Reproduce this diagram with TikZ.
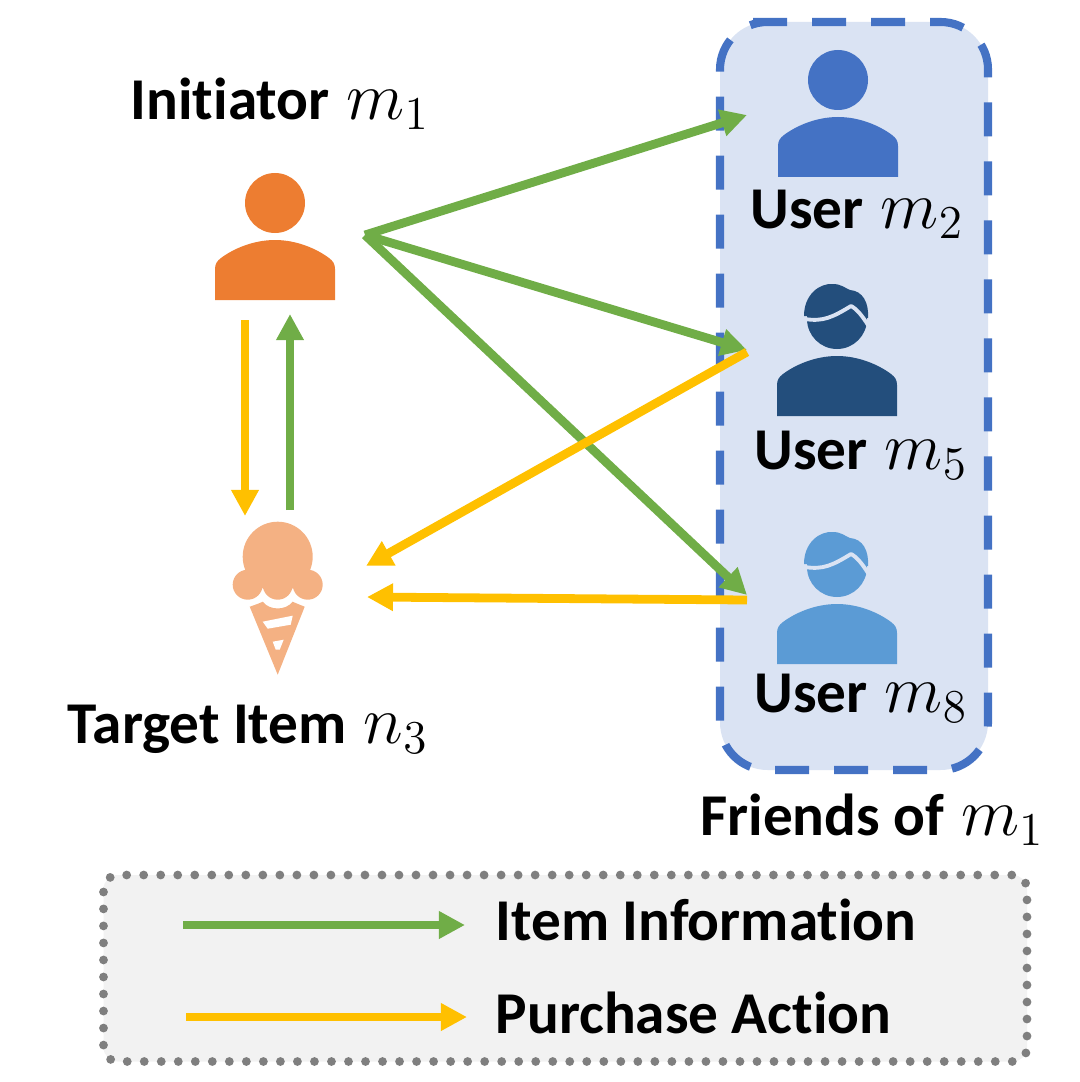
\documentclass[tikz,border=0pt]{standalone}
\usepackage{fontspec}
\setmainfont[Ligatures=NoCommon]{Carlito}
\usetikzlibrary{arrows.meta}
\definecolor{itemgreen}{HTML}{70AD47}
\definecolor{buyyellow}{HTML}{FFC000}
\definecolor{panelblue}{HTML}{DAE3F3}
\definecolor{frameblue}{HTML}{4472C4}
\definecolor{darkblue}{HTML}{234E7C}
\definecolor{lightblue}{HTML}{5B9BD5}
\definecolor{userorange}{HTML}{ED7D31}
\definecolor{conecolor}{HTML}{F4B183}
\definecolor{legendgray}{HTML}{F2F2F2}
\definecolor{dotgray}{HTML}{7F7F7F}
\newcommand{\bigvar}[1]{\hspace{1pt}\scalebox{0.93}{\fontsize{20.7}{24}\selectfont$#1$}}
\tikzset{
	label text/.style={font=\fontsize{16.85}{20}\selectfont\bfseries, inner sep=0pt},
	flow/.style={line width=2.5pt, -{Triangle[length=7.4pt,width=7.4pt]}},
	info/.style={flow, draw=itemgreen},
	buy/.style={flow, draw=buyyellow},
	pics/person/.style={code={
		\fill[#1] (0,0) circle[radius=30];
		\fill[#1] (-60,97)--(-60,66) .. controls (-60,61) and (-58,58) .. (-54,55)
			.. controls (-42,46) and (-22,37) .. (0,37)
			.. controls (22,37) and (42,46) .. (54,55)
			.. controls (58,58) and (60,61) .. (60,66)--(60,97)--cycle;
	}},
	pics/man/.style={code={
		\pic {person=#1};
		% hair and its parting
		\fill[#1] (-33,-3) .. controls (-33,-24) and (-18,-36) .. (-4,-35)
			.. controls (4,-35) and (8,-31) .. (13,-29)
			.. controls (26,-28) and (32,-16) .. (31,-1)--cycle;
		\draw[panelblue, line width=1.1pt, line cap=round] (-32,0) .. controls (-14,3) and (-4,-2) .. (14,-13)
			.. controls (20,-10) and (26,-2) .. (31,6);
	}},
	pics/icecream/.style={code={
		\fill[conecolor] (0,0) circle[radius=35];
		\fill[conecolor] (-30,28) circle[radius=15];
		\fill[conecolor] (0,28) circle[radius=15];
		\fill[conecolor] (30,28) circle[radius=15];
		\fill[conecolor] (-28,50) .. controls (-22,48) and (-17,46) .. (-15,45)
			.. controls (-8,54) and (8,54) .. (15,45)
			.. controls (17,46) and (22,48) .. (27,50)--(0,118)--cycle;
		\fill[white] (-15,65)--(15,59)--(13,68)--(-10,72)--cycle;
		\fill[white] (-5,85)--(6,83)--(2,93)--(-2,93)--cycle;
	}},
}
\begin{document}
\begin{tikzpicture}[x=0.01cm,y=-0.01cm, line join=round]
	\useasboundingbox (0,0) rectangle (1080,1082);
	% friends panel
	\draw[fill=panelblue, draw=frameblue, line width=2.3pt, dash pattern=on 9.67pt off 7.11pt, rounded corners=13.5pt]
		(753,22)--(988,22)--(988,770)--(720,770)--(720,22)--(753,22);
	% legend box
	\draw[fill=legendgray, draw=dotgray, line width=2.5pt, line cap=round, dash pattern=on 0pt off 4.84pt, rounded corners=4pt]
		(103.5,892)--(103.5,875)--(1027,875)--(1027,1061.5)--(103.5,1061.5)--(103.5,892);
	% users
	\pic at (275,203) {person=userorange};
	\pic at (838,80) {person=frameblue};
	\pic at (837,319) {man=darkblue};
	\pic at (837,567) {man=lightblue};
	\pic at (277.7,556.7) {icecream};
	% arrow ends
	\coordinate (source) at (365,235);
	\coordinate (toTwo) at (747,115);
	\coordinate (toFive) at (747,350);
	\coordinate (toEight) at (747,595);
	\coordinate (fromFive) at (747,352);
	\coordinate (fromEight) at (747,600);
	\coordinate (itemA) at (366,566);
	\coordinate (itemB) at (367,597);
	\coordinate (downTop) at (245,320);
	\coordinate (downEnd) at (245,516);
	\coordinate (upEnd) at (290,314);
	\coordinate (upStart) at (290,510);
	\coordinate (keyGreenA) at (183,925);
	\coordinate (keyGreenB) at (465,925);
	\coordinate (keyYellowA) at (186,1017);
	\coordinate (keyYellowB) at (467,1017);
	\draw[info] (source)--(toTwo);
	\draw[info] (source)--(toFive);
	\draw[info] (source)--(toEight);
	\draw[buy] (fromFive)--(itemA);
	\draw[buy] (fromEight)--(itemB);
	\draw[buy] (downTop)--(downEnd);
	\draw[info] (upStart)--(upEnd);
	\draw[info] (keyGreenA)--(keyGreenB);
	\draw[buy] (keyYellowA)--(keyYellowB);
	% labels
	\node[label text] (initiator) at (280,104) {Initiator \bigvar{m_1}};
	\node[label text] (userTwo) at (857,214) {User \bigvar{m_2}};
	\node[label text] (userFive) at (861,455) {User \bigvar{m_5}};
	\node[label text] (userEight) at (861,698) {User \bigvar{m_8}};
	\node[label text] (target) at (248,729) {Target Item \bigvar{n_3}};
	\node[label text] (friends) at (872,820) {Friends of \bigvar{m_1}};
	\node[label text, anchor=west] (infoKey) at (495,920) {Item Information};
	\node[label text, anchor=west] (buyKey) at (495,1013) {Purchase Action};
\end{tikzpicture}
\end{document}
